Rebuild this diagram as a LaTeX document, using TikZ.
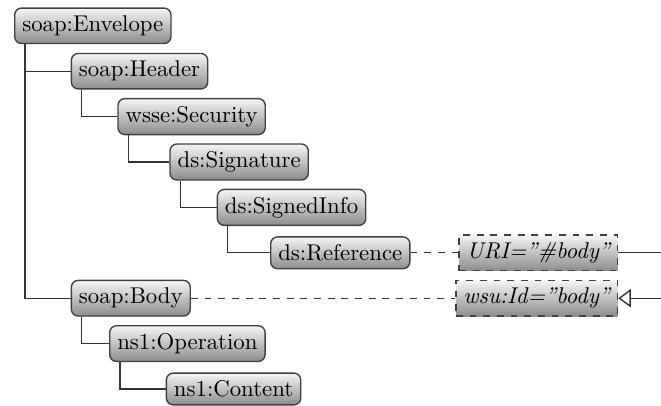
\documentclass[tikz,border=0pt]{standalone}
\usetikzlibrary{arrows.meta}
\begin{document}
\begin{tikzpicture}[x=0.4386pt, y=-0.4386pt,
  elem/.style={draw=black!75, semithick, rounded corners=3pt,
    top color=black!4, bottom color=black!45, anchor=west},
  attr/.style={draw=black!75, semithick, dashed,
    top color=black!4, bottom color=black!45, anchor=east, font=\itshape},
  tree/.style={draw=black!80, semithick},
  link/.style={draw=black!80, semithick, dashed},
  stem/.style={xshift=4.85pt}]
\useasboundingbox (0,0) rectangle (661,405);

% XML element tree
\node[elem] (env)  at (14,25.8)    {soap:Envelope};
\node[elem] (hdr)  at (70.7,71.2)  {soap:Header};
\node[elem] (sec)  at (117.3,116.6){wsse:Security};
\node[elem] (sig)  at (169.3,162)  {ds:Signature};
\node[elem] (sinf) at (216.7,207.4){ds:SignedInfo};
\node[elem] (ref)  at (270,252.8)  {ds:Reference};
\node[elem] (body) at (70.7,298.2) {soap:Body};
\node[elem] (op)   at (109,343.6)  {ns1:Operation};
\node[elem] (cont) at (165.7,389)  {ns1:Content};

% attributes
\node[attr] (uri) at (618.3,252.8) {URI=''\#body''};
\node[attr] (wid) at (618.3,298.2) {wsu:Id=''body''};

\coordinate (outA) at (661,252.8);
\coordinate (outB) at (661,298.2);

% parent-child edges
\draw[tree] ([stem]env.south west)  |- (hdr.west);
\draw[tree] ([stem]env.south west)  |- (body.west);
\draw[tree] ([stem]hdr.south west)  |- (sec.west);
\draw[tree] ([stem]sec.south west)  |- (sig.west);
\draw[tree] ([stem]sig.south west)  |- (sinf.west);
\draw[tree] ([stem]sinf.south west) |- (ref.west);
\draw[tree] ([stem]body.south west) |- (op.west);
\draw[tree] ([stem]op.south west)   |- (cont.west);

% reference links
\draw[link] (ref.east) -- (uri.west);
\draw[link] (body.east) -- (wid.west);
\draw[tree] (uri.east) -- (outA);
\draw[tree, -{Triangle[open,length=5.5pt,width=8pt]}] (outB) -- (wid.east);
\end{tikzpicture}
\end{document}
